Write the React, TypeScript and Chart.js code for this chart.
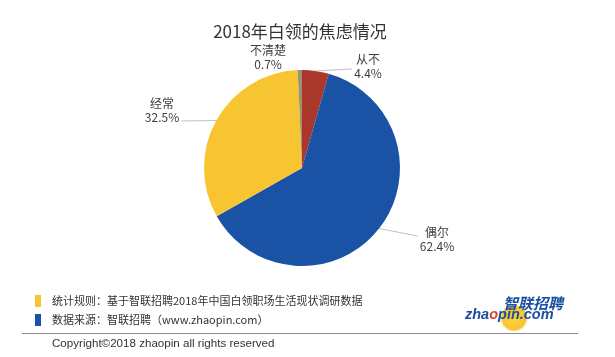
import React, { useEffect, useRef } from "react";
import { Chart, registerables } from "chart.js";

Chart.register(...registerables);

const TITLE = "2018年白领的焦虑情况";
const categories = ["从不", "偶尔", "经常", "不清楚"];
const values = [4.4, 62.4, 32.5, 0.7];
const colors = ["#A9382B", "#1A53A6", "#F7C531", "#9C9170"];
const legendTexts = [
  "统计规则：基于智联招聘2018年中国白领职场生活现状调研数据",
  "数据来源：智联招聘（www.zhaopin.com）",
];
const legendColors = ["#F7C531", "#1A53A6"];
const COPYRIGHT = "Copyright©2018 zhaopin all rights reserved";

// label placement (relative to pie center, in px) and whether to draw a leader
const labelPlacement = [
  { dx: 66, dy: -102, leader: true, side: "left" },
  { dx: 135, dy: 71, leader: true, side: "left" },
  { dx: -140, dy: -58, leader: true, side: "right" },
  { dx: -34, dy: -111, leader: false, side: "left" },
];

const CJK = '"Noto Sans CJK SC", "Noto Sans", sans-serif';

const decorPlugin = {
  id: "decor",
  afterDraw(chart: any) {
    const ctx = chart.ctx as CanvasRenderingContext2D;
    const meta = chart.getDatasetMeta(0);
    ctx.save();
    // title
    ctx.fillStyle = "#333";
    ctx.font = `17px ${CJK}`;
    ctx.textAlign = "center";
    ctx.textBaseline = "middle";
    ctx.fillText(TITLE, 300, 32);

    // labels
    ctx.font = `12px ${CJK}`;
    meta.data.forEach((arc: any, i: number) => {
      const { x, y, startAngle, endAngle, outerRadius } = arc.getProps(
        ["x", "y", "startAngle", "endAngle", "outerRadius"],
        true
      );
      const mid = (startAngle + endAngle) / 2;
      const ax = x + Math.cos(mid) * outerRadius;
      const ay = y + Math.sin(mid) * outerRadius;
      const p = labelPlacement[i];
      const lx = x + p.dx;
      const ly = y + p.dy;
      const pct = values[i].toFixed(1) + "%";
      ctx.fillStyle = "#404040";
      ctx.textAlign = "center";
      ctx.fillText(categories[i], lx, ly - 7);
      ctx.fillText(pct, lx, ly + 7);
      if (p.leader) {
        const w = ctx.measureText(pct).width;
        const ex = p.side === "left" ? lx - w / 2 - 2 : lx + w / 2 + 2;
        const ey = p.side === "left" ? ly - 3 + (i === 0 ? 6 : 0) : ly + 11;
        ctx.strokeStyle = "#B0B0B0";
        ctx.lineWidth = 0.8;
        ctx.beginPath();
        ctx.moveTo(ax, ay);
        ctx.lineTo(ex, ey);
        ctx.stroke();
      }
    });

    // legend
    ctx.textAlign = "left";
    ctx.font = `11px ${CJK}`;
    legendTexts.forEach((t, i) => {
      const cy = 301 + i * 19;
      ctx.fillStyle = legendColors[i];
      ctx.fillRect(35, cy - 6, 6, 12);
      ctx.fillStyle = "#333";
      ctx.fillText(t, 52, cy);
    });

    // separator
    ctx.strokeStyle = "#8A8A8A";
    ctx.lineWidth = 1;
    ctx.beginPath();
    ctx.moveTo(22, 333.5);
    ctx.lineTo(578, 333.5);
    ctx.stroke();

    // copyright
    ctx.fillStyle = "#333";
    ctx.font = `11.6px "Liberation Sans", Arial, sans-serif`;
    ctx.fillText(COPYRIGHT, 52, 344);

    // logo
    const g = ctx.createRadialGradient(514, 318, 2, 514, 318, 14);
    g.addColorStop(0, "#FBD23A");
    g.addColorStop(0.8, "#F7C531");
    g.addColorStop(1, "rgba(247,197,49,0)");
    ctx.fillStyle = g;
    ctx.beginPath();
    ctx.arc(514, 318, 14, 0, Math.PI * 2);
    ctx.fill();
    ctx.fillStyle = "#1A4FA0";
    ctx.font = `italic bold 15px ${CJK}`;
    ctx.textBaseline = "alphabetic";
    ctx.fillText("智联招聘", 503, 309);
    ctx.font = `italic bold 14.5px "Liberation Sans", Arial, sans-serif`;
    let cx = 465;
    const parts: [string, string][] = [
      ["zha", "#1A4FA0"],
      ["o", "#D9452B"],
      ["pin.com", "#1A4FA0"],
    ];
    parts.forEach(([s, c]) => {
      ctx.fillStyle = c;
      ctx.fillText(s, cx, 319);
      cx += ctx.measureText(s).width;
    });
    ctx.restore();
  },
};

export default function App() {
  const ref = useRef<HTMLCanvasElement>(null);
  useEffect(() => {
    const chart = new Chart(ref.current!, {
      type: "pie",
      data: {
        labels: categories,
        datasets: [
          {
            data: values,
            backgroundColor: colors,
            borderWidth: 0,
          },
        ],
      },
      options: {
        animation: false,
        responsive: false,
        layout: { padding: { top: 70, bottom: 91, left: 204, right: 215 } },
        plugins: {
          legend: { display: false },
          title: { display: false },
          tooltip: { enabled: false },
        },
      },
      plugins: [
        {
          id: "bg",
          beforeDraw(c: any) {
            const ctx = c.ctx;
            ctx.save();
            ctx.fillStyle = "#fff";
            ctx.fillRect(0, 0, c.width, c.height);
            ctx.restore();
          },
        },
        decorPlugin,
      ],
    });
    return () => chart.destroy();
  }, []);
  return (
    <div style={{ position: "fixed", left: 0, top: 0, width: 615, height: 357, background: "#fff" }}>
      <canvas ref={ref} width={615} height={357} style={{ width: 615, height: 357 }} />
    </div>
  );
}
